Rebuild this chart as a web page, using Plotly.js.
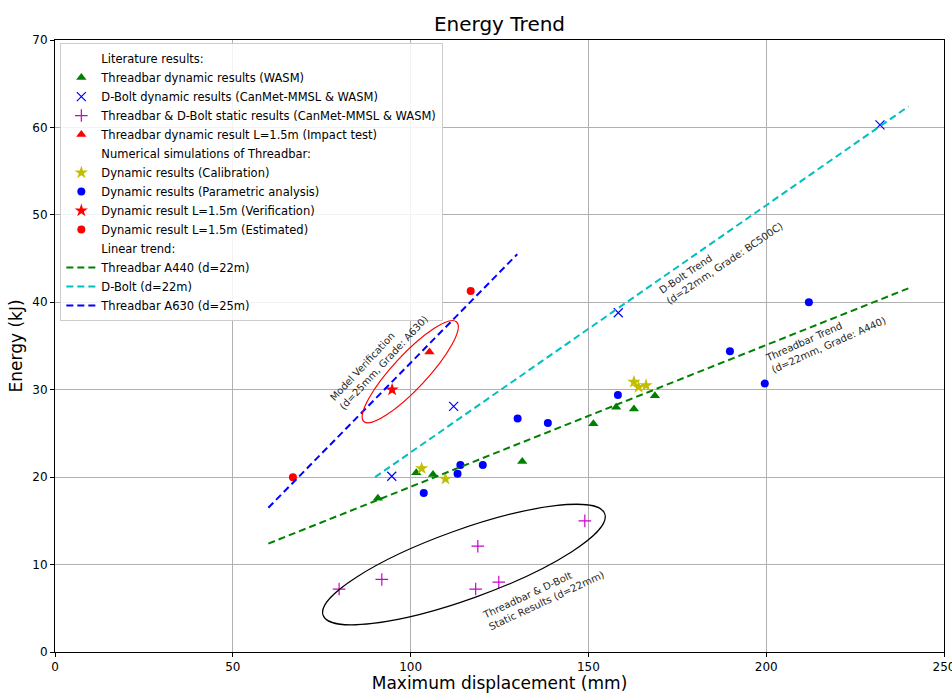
<!DOCTYPE html>
<html>
<head>
<meta charset="utf-8">
<script src="https://cdn.plot.ly/plotly-3.0.1.min.js"></script>
<style>html,body{margin:0;padding:0;background:#fff;}#chart{width:952px;height:693px;}</style>
</head>
<body>
<div id="chart"></div>
<script>
// ---- Data ----
const wasmDisp = [90.8, 101.6, 106.3, 131.4, 151.4, 157.8, 162.8, 168.7];
const wasmEnergy = [17.6, 20.5, 20.3, 21.8, 26.1, 28.0, 27.8, 29.3];

const dboltDisp = [94.7, 112.1, 158.4, 232.0];
const dboltEnergy = [20.1, 28.1, 38.8, 60.3];

const staticDisp = [79.9, 91.9, 118.9, 118.3, 124.8, 149.0];
const staticEnergy = [7.2, 8.3, 12.1, 7.2, 8.0, 15.0];

const impactDisp = [105.3];
const impactEnergy = [34.3];

const calibDisp = [103.1, 109.8, 162.8, 164.1, 166.2];
const calibEnergy = [21.0, 19.8, 30.9, 30.3, 30.5];

const paramDisp = [103.7, 113.2, 114.0, 120.3, 130.1, 138.6, 158.3, 189.8, 199.6, 212.0];
const paramEnergy = [18.2, 20.4, 21.4, 21.4, 26.7, 26.2, 29.4, 34.4, 30.7, 40.0];

const verifDisp = [94.8];
const verifEnergy = [30.0];

const estimDisp = [66.9, 116.9];
const estimEnergy = [20.0, 41.3];

const trendA440X = [60, 240];
const trendA440Y = [12.4, 41.6];
const trendDboltX = [90, 240];
const trendDboltY = [20.0, 62.4];
const trendA630X = [60, 130];
const trendA630Y = [16.5, 45.5];

const xTicks = [0, 50, 100, 150, 200, 250];
const yTicks = [0, 10, 20, 30, 40, 50, 60, 70];

// ---- Layout geometry ----
const W = 952, H = 693;
const M = {l: 55, r: 8, t: 40, b: 41};
const plotW = W - M.l - M.r, plotH = H - M.t - M.b;
const XR = [0, 250], YR = [0, 70];

function ellipsePath(cx, cy, aPx, bPx, angDeg) {
  const sx = plotW / (XR[1] - XR[0]), sy = plotH / (YR[1] - YR[0]);
  const t = angDeg * Math.PI / 180;
  const ux = aPx * Math.cos(t) / sx, uy = aPx * Math.sin(t) / sy;
  const vx = -bPx * Math.sin(t) / sx, vy = bPx * Math.cos(t) / sy;
  const k = 0.5523;
  const P = (p, q) => (cx + p * ux + q * vx).toFixed(4) + ',' + (cy + p * uy + q * vy).toFixed(4);
  return 'M' + P(1, 0) +
    ' C' + P(1, k) + ' ' + P(k, 1) + ' ' + P(0, 1) +
    ' C' + P(-k, 1) + ' ' + P(-1, k) + ' ' + P(-1, 0) +
    ' C' + P(-1, -k) + ' ' + P(-k, -1) + ' ' + P(0, -1) +
    ' C' + P(k, -1) + ' ' + P(1, -k) + ' ' + P(1, 0) + ' Z';
}

const FONT = 'DejaVu Sans, Verdana, sans-serif';
const header = (name, group) => ({
  x: [null], y: [null], type: 'scatter', mode: 'markers', name: name,
  legendgroup: group, marker: {color: 'rgba(0,0,0,0)', size: 1}, hoverinfo: 'skip'
});

const traces = [
  header('Literature results:', 'g1'),
  {x: wasmDisp, y: wasmEnergy, type: 'scatter', mode: 'markers', legendgroup: 'g1',
   name: 'Threadbar dynamic results (WASM)',
   marker: {symbol: 'triangle-up', size: 9, color: '#008000'}},
  {x: dboltDisp, y: dboltEnergy, type: 'scatter', mode: 'markers', legendgroup: 'g1',
   name: 'D-Bolt dynamic results (CanMet-MMSL & WASM)',
   marker: {symbol: 'x-thin', size: 9, color: '#0000ff', line: {color: '#0000ff', width: 1.2}}},
  {x: staticDisp, y: staticEnergy, type: 'scatter', mode: 'markers', legendgroup: 'g1',
   name: 'Threadbar & D-Bolt static results (CanMet-MMSL & WASM)',
   marker: {symbol: 'cross-thin', size: 9, color: '#cc00cc', line: {color: '#cc00cc', width: 1.2}}},
  {x: impactDisp, y: impactEnergy, type: 'scatter', mode: 'markers', legendgroup: 'g1',
   name: 'Threadbar dynamic result L=1.5m (Impact test)',
   marker: {symbol: 'triangle-up', size: 9, color: '#ff0000'}},

  header('Numerical simulations of Threadbar:', 'g2'),
  {x: calibDisp, y: calibEnergy, type: 'scatter', mode: 'markers', legendgroup: 'g2',
   name: 'Dynamic results (Calibration)',
   marker: {symbol: 'star', size: 10, color: '#bfbf00'}},
  {x: paramDisp, y: paramEnergy, type: 'scatter', mode: 'markers', legendgroup: 'g2',
   name: 'Dynamic results (Parametric analysis)',
   marker: {symbol: 'circle', size: 8, color: '#0000ff'}},
  {x: verifDisp, y: verifEnergy, type: 'scatter', mode: 'markers', legendgroup: 'g2',
   name: 'Dynamic result L=1.5m (Verification)',
   marker: {symbol: 'star', size: 10, color: '#ff0000'}},
  {x: estimDisp, y: estimEnergy, type: 'scatter', mode: 'markers', legendgroup: 'g2',
   name: 'Dynamic result L=1.5m (Estimated)',
   marker: {symbol: 'circle', size: 8, color: '#ff0000'}},

  header('Linear trend:', 'g3'),
  {x: trendA440X, y: trendA440Y, type: 'scatter', mode: 'lines', legendgroup: 'g3',
   name: 'Threadbar A440 (d=22m)', line: {color: '#008000', width: 2, dash: '7px,4px'}},
  {x: trendDboltX, y: trendDboltY, type: 'scatter', mode: 'lines', legendgroup: 'g3',
   name: 'D-Bolt (d=22m)', line: {color: '#00bfbf', width: 2, dash: '7px,4px'}},
  {x: trendA630X, y: trendA630Y, type: 'scatter', mode: 'lines', legendgroup: 'g3',
   name: 'Threadbar A630 (d=25m)', line: {color: '#0000ff', width: 2, dash: '7px,4px'}}
];

const annFont = {family: FONT, size: 10, color: '#262626'};
const layout = {
  width: W, height: H,
  margin: M,
  paper_bgcolor: '#ffffff', plot_bgcolor: '#ffffff',
  font: {family: FONT, size: 12, color: '#000'},
  title: {text: 'Energy Trend', font: {family: FONT, size: 20, color: '#000'},
          x: 0.5, xref: 'paper', xanchor: 'center', y: 1 - 24 / H, yanchor: 'middle'},
  xaxis: {range: XR, tickvals: xTicks, ticktext: xTicks.map(String),
          showgrid: true, gridcolor: '#b0b0b0', gridwidth: 1, zeroline: false,
          showline: true, linecolor: '#000', linewidth: 1, mirror: true,
          ticks: 'outside', ticklen: 4, tickcolor: '#000', ticklabeloverflow: 'allow',
          tickfont: {family: FONT, size: 12, color: '#000'},
          title: {text: 'Maximum displacement (mm)', font: {family: FONT, size: 17, color: '#000'}, standoff: 6}},
  yaxis: {range: YR, tickvals: yTicks, ticktext: yTicks.map(String),
          showgrid: true, gridcolor: '#b0b0b0', gridwidth: 1, zeroline: false,
          showline: true, linecolor: '#000', linewidth: 1, mirror: true,
          ticks: 'outside', ticklen: 4, tickcolor: '#000',
          tickfont: {family: FONT, size: 12, color: '#000'},
          title: {text: 'Energy (kJ)', font: {family: FONT, size: 17, color: '#000'}, standoff: 5}},
  showlegend: true,
  legend: {x: 0.006, xanchor: 'left', y: 0.995, yanchor: 'top',
           bgcolor: 'rgba(255,255,255,0.85)', bordercolor: '#cccccc', borderwidth: 1,
           font: {family: FONT, size: 11.5, color: '#000'}, tracegroupgap: 0,
           traceorder: 'grouped'},
  shapes: [
    {type: 'path', xref: 'x', yref: 'y', path: ellipsePath(99.9, 32.06, 68, 17, 47),
     line: {color: '#ff0000', width: 1.2}, fillcolor: 'rgba(0,0,0,0)'},
    {type: 'path', xref: 'x', yref: 'y', path: ellipsePath(115.0, 10.0, 149.7, 34.6, 19.8),
     line: {color: '#000000', width: 1.2}, fillcolor: 'rgba(0,0,0,0)'}
  ],
  annotations: [
    {x: 91.2, y: 33.6, xref: 'x', yref: 'y', showarrow: false, align: 'left', textangle: -47,
     text: 'Model Verification<br>(d=25mm, Grade: A630)', font: annFont},
    {x: 187.3, y: 45.1, xref: 'x', yref: 'y', showarrow: false, align: 'left', textangle: -34,
     text: 'D-Bolt Trend<br>(d=22mm, Grade: BC500C)', font: annFont},
    {x: 216.8, y: 35.8, xref: 'x', yref: 'y', showarrow: false, align: 'left', textangle: -24,
     text: 'Threadbar Trend<br>(d=22mm, Grade: A440)', font: annFont},
    {x: 137.3, y: 6.5, xref: 'x', yref: 'y', showarrow: false, align: 'left', textangle: -25,
     text: 'Threadbar & D-Bolt<br>Static Results (d=22mm)', font: annFont}
  ]
};

Plotly.newPlot('chart', traces, layout, {displayModeBar: false, staticPlot: true});
</script>
</body>
</html>
